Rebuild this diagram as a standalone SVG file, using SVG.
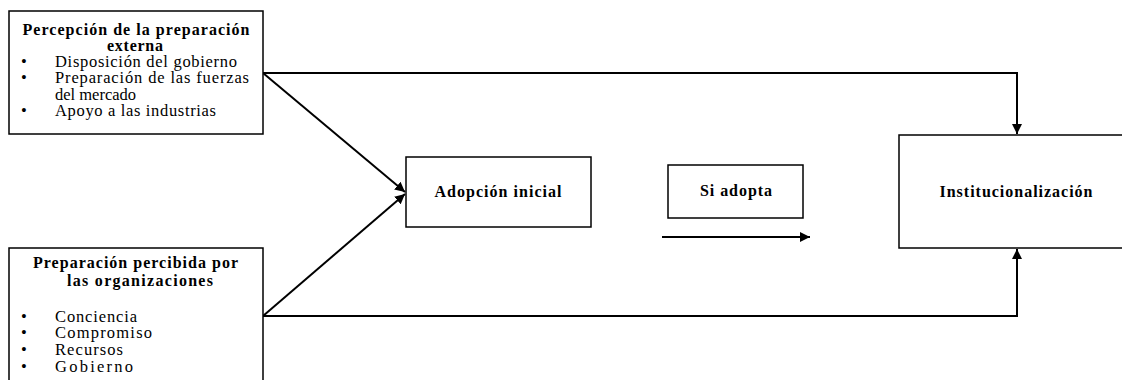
<svg xmlns="http://www.w3.org/2000/svg" width="1122" height="380" viewBox="0 0 1122 380">
<style>
.box{fill:#fff;stroke:#000;stroke-width:1.5}
.b{font-family:"Liberation Serif","Times New Roman",serif;font-weight:bold;font-size:16px;fill:#000}
.r{font-family:"Liberation Serif","Times New Roman",serif;font-size:16.5px;fill:#000}
.c{fill:none;stroke:#000;stroke-width:2}
</style>
<defs>
<marker id="ah" viewBox="0 0 10 10" refX="10" refY="5" markerWidth="5" markerHeight="5" orient="auto" markerUnits="strokeWidth">
<path d="M0,0 L10,5 L0,10 z" fill="#000"/>
</marker>
</defs>
<rect width="1122" height="380" fill="#fff"/>
<g id="connectors">
<path class="c" d="M263,73 H1017 V134" marker-end="url(#ah)"/>
<path class="c" d="M263,316 H1017 V249" marker-end="url(#ah)"/>
<path class="c" d="M263,73 L405,192" marker-end="url(#ah)"/>
<path class="c" d="M263,316 L405,194" marker-end="url(#ah)"/>
<path class="c" d="M662,237 H810" marker-end="url(#ah)"/>
</g>
<g id="externa">
<rect class="box" x="9" y="11" width="254" height="123"/>
<text class="b" x="136" y="35" text-anchor="middle" textLength="227" lengthAdjust="spacing">Percepción de la preparación</text>
<text class="b" x="135" y="51" text-anchor="middle" textLength="56" lengthAdjust="spacing">externa</text>
<text class="r" x="21" y="67">•</text>
<text class="r" x="55" y="67" textLength="182" lengthAdjust="spacing">Disposición del gobierno</text>
<text class="r" x="21" y="83">•</text>
<text class="r" x="55" y="83" textLength="194" lengthAdjust="spacing">Preparación de las fuerzas</text>
<text class="r" x="55" y="100" textLength="81" lengthAdjust="spacing">del mercado</text>
<text class="r" x="21" y="116">•</text>
<text class="r" x="55" y="116" textLength="161" lengthAdjust="spacing">Apoyo a las industrias</text>
</g>
<g id="organizaciones">
<path class="box" d="M9,381 V248 H263 V381"/>
<text class="b" x="135.5" y="268" text-anchor="middle" textLength="205" lengthAdjust="spacing">Preparación percibida por</text>
<text class="b" x="140" y="286" text-anchor="middle" textLength="146" lengthAdjust="spacing">las organizaciones</text>
<text class="r" x="21" y="322">•</text>
<text class="r" x="55" y="322" textLength="82" lengthAdjust="spacing">Conciencia</text>
<text class="r" x="21" y="338">•</text>
<text class="r" x="55" y="338" textLength="97" lengthAdjust="spacing">Compromiso</text>
<text class="r" x="21" y="355">•</text>
<text class="r" x="55" y="355" textLength="68" lengthAdjust="spacing">Recursos</text>
<text class="r" x="21" y="372">•</text>
<text class="r" x="55" y="372" textLength="78" lengthAdjust="spacing">Gobierno</text>
</g>
<g id="adopcion">
<rect class="box" x="406" y="157" width="185" height="70"/>
<text class="b" x="498" y="197" text-anchor="middle" textLength="127" lengthAdjust="spacing">Adopción inicial</text>
</g>
<g id="siadopta">
<rect class="box" x="668" y="165" width="135" height="53"/>
<text class="b" x="736" y="196" text-anchor="middle" textLength="72" lengthAdjust="spacing">Si adopta</text>
</g>
<g id="institucionalizacion">
<rect class="box" x="899" y="135" width="240" height="113"/>
<text class="b" x="1016" y="197" text-anchor="middle" textLength="153" lengthAdjust="spacing">Institucionalización</text>
</g>
</svg>
